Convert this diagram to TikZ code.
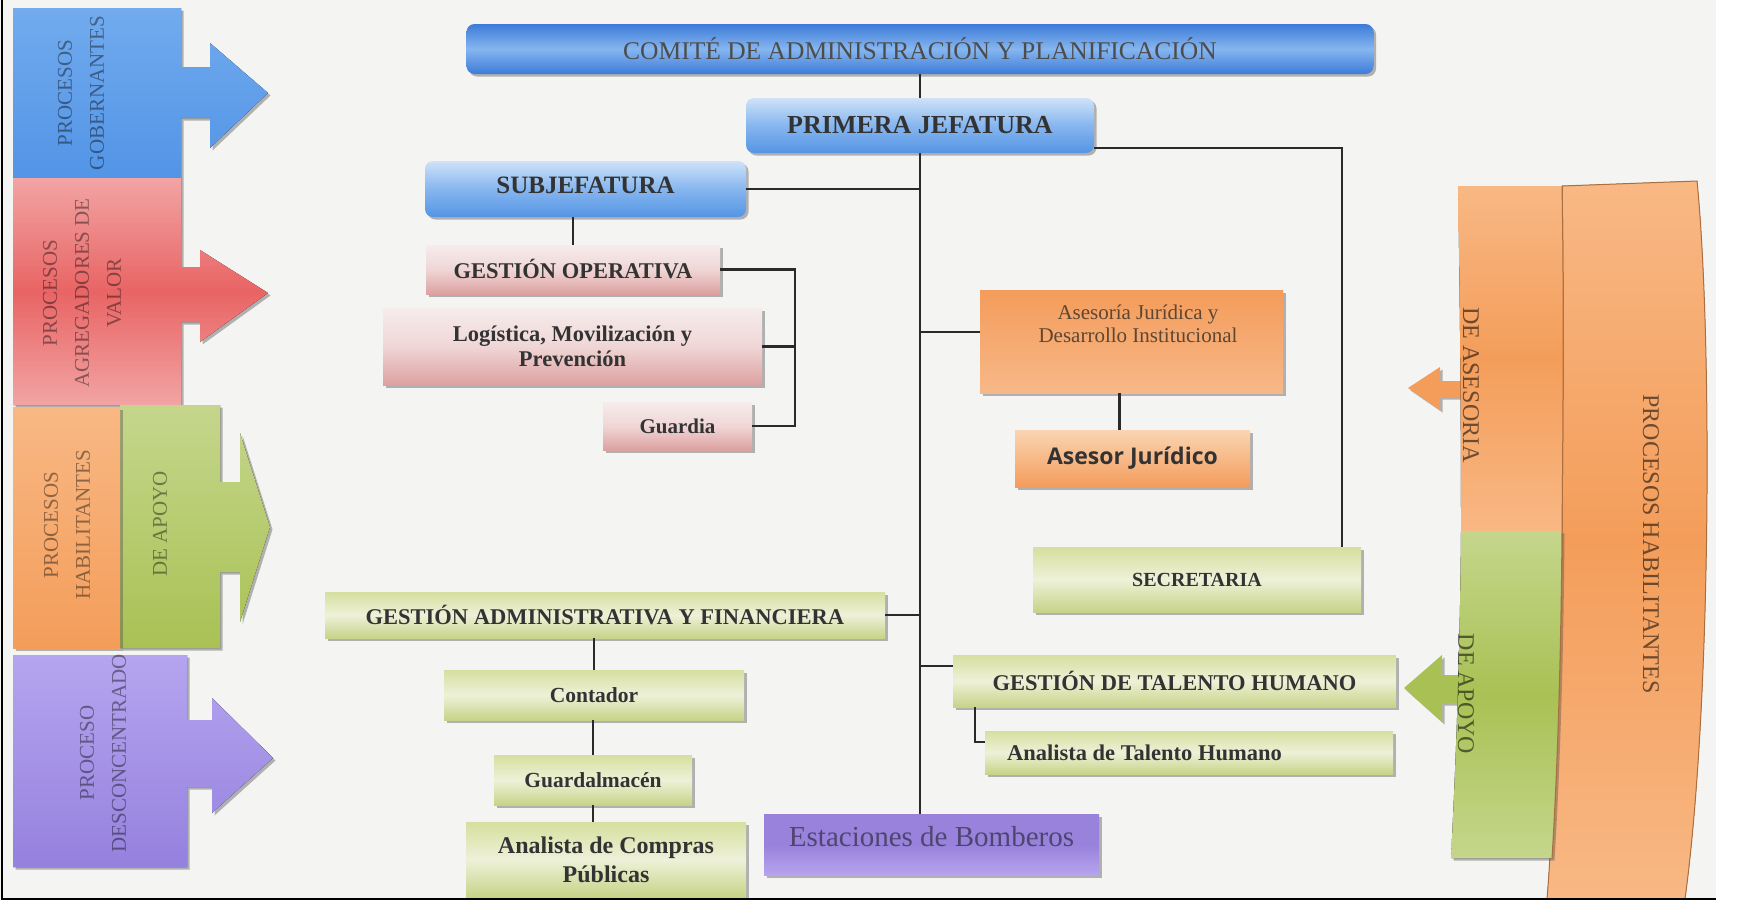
\documentclass[tikz,border=0pt]{standalone}
\usepackage{fontspec}
\setmainfont{Liberation Serif}
\newfontfamily\asesorfont{Open Sans}
\usepackage{tikz}
\usetikzlibrary{calc,shadows}

\definecolor{fondo}{HTML}{F4F4F3}
\definecolor{gris}{HTML}{2A2A2A}
\definecolor{azulA}{HTML}{3D7BD8}
\definecolor{azulB}{HTML}{86B6EF}
\definecolor{azulC}{HTML}{CFE2F8}
\definecolor{azulD}{HTML}{5595E4}
\definecolor{rosaA}{HTML}{F6ECEC}
\definecolor{rosaM}{HTML}{F0D6D6}
\definecolor{rosaB}{HTML}{DDA0A0}
\definecolor{verdeA}{HTML}{D6DF9F}
\definecolor{verdeB}{HTML}{EEF1D8}
\definecolor{verdeC}{HTML}{C7D388}
\definecolor{naranjaA}{HTML}{F49C5B}
\definecolor{naranjaB}{HTML}{F7B888}
\definecolor{naranjaC}{HTML}{FAD5B3}
\definecolor{moradoA}{HTML}{9882DC}
\definecolor{moradoB}{HTML}{B6A4EE}
\definecolor{moradoT}{HTML}{4F4670}
\definecolor{marron}{HTML}{5E4632}
\definecolor{pgA}{HTML}{72ABEE}
\definecolor{pgB}{HTML}{5294E6}
\definecolor{rojoA}{HTML}{F2A4A4}
\definecolor{rojoB}{HTML}{E96464}
\definecolor{naA}{HTML}{F8B884}
\definecolor{naB}{HTML}{F49D5A}
\definecolor{veA}{HTML}{C5D68C}
\definecolor{veB}{HTML}{A9C154}
\definecolor{moA}{HTML}{B5A5EF}
\definecolor{moB}{HTML}{9581DE}

\newcommand{\fz}[2]{\fontsize{#1}{#2}\selectfont}

\tikzset{
  sombra/.style={drop shadow={shadow xshift=2.5pt,shadow yshift=-2.5pt,opacity=.4,fill=black!70}},
  azul/.style={rounded corners=8pt,top color=azulA,bottom color=azulA,middle color=azulB,sombra,inner sep=0pt,text=black!70},
  azulclaro/.style={rounded corners=8pt,top color=azulC,bottom color=azulD,middle color=azulB,sombra,inner sep=0pt,text=black!80},
  rosa/.style={top color=rosaA,bottom color=rosaB,middle color=rosaM,sombra,inner sep=0pt,text=black!80,font=\bfseries\fz{22.5}{25}},
  verde/.style={top color=verdeA,bottom color=verdeC,middle color=verdeB,sombra,inner sep=0pt,text=black!80,font=\bfseries\fz{22.5}{25}},
  naranja/.style={top color=naranjaA,bottom color=naranjaB,sombra,inner sep=0pt},
  naranjaclaro/.style={top color=naranjaC,bottom color=naranjaA,sombra,inner sep=0pt,text=black!80},
  morado/.style={top color=moradoA,bottom color=moradoB,middle color=moradoA,sombra,inner sep=0pt,text=moradoT},
  conector/.style={line width=2.5pt,draw=gris},
  ltexto/.style={rotate=90,align=center,text=black,text opacity=.42,font=\fz{21}{32}},
  rtexto/.style={rotate=-90,align=center,text=black,text opacity=.55,font=\fz{24}{28}},
}

\begin{document}
\begin{tikzpicture}[x=1pt,y=-1pt]
\useasboundingbox (0,0) rectangle (1741,903);
\fill[fondo] (0,0) rectangle (1716,899);

\fill[top color=pgA,bottom color=pgB,sombra] (13,8) -- (181,8) -- (181,67) -- (210,67) -- (210,43) -- (268,93) -- (210,148) -- (210,118) -- (181,118) -- (181,178) -- (13,178) -- cycle;
\fill[top color=rojoA,bottom color=rojoA,middle color=rojoB,sombra] (13,178) -- (181,178) -- (181,267) -- (200,267) -- (200,250) -- (268,293) -- (200,342) -- (200,322) -- (181,322) -- (181,405) -- (13,405) -- cycle;
\fill[top color=veA,bottom color=veB,sombra] (120,405) -- (220,405) -- (220,482) -- (240,482) -- (240,433) -- (270,527) -- (240,622) -- (240,572) -- (220,572) -- (220,648) -- (120,648) -- cycle;
\fill[top color=naA,bottom color=naB,sombra] (13,407) rectangle (120,648);
\fill[top color=moA,bottom color=moB,sombra] (13,655) -- (187,655) -- (187,720) -- (212,720) -- (212,698) -- (273,758) -- (212,813) -- (212,787) -- (187,787) -- (187,867) -- (13,867) -- cycle;
\node[ltexto] (gober) at (81,93) {PROCESOS\\GOBERNANTES};
\node[ltexto] (agreg) at (82,293) {PROCESOS\\AGREGADORES DE\\VALOR};
\node[ltexto] (habil) at (67,525) {PROCESOS\\HABILITANTES};
\node[ltexto] (apoyoizq) at (160,524) {DE APOYO};
\node[ltexto] (descon) at (103,753) {PROCESO\\DESCONCENTRADO};

\fill[naB,sombra] (1466,381) -- (1440,381) -- (1440,367) -- (1408,388) -- (1440,410) -- (1440,397) -- (1466,397) -- cycle;
\fill[veB,sombra] (1462,675) -- (1442,675) -- (1442,655) -- (1404,688) -- (1442,722) -- (1442,703) -- (1462,703) -- cycle;
\fill[top color=naA,bottom color=naA,middle color=naB,draw=naB!70!black,line width=1pt] (1562,186) -- (1697,181) .. controls (1712,330) and (1712,700) .. (1685,899) -- (1547,899) .. controls (1555,800) and (1562,600) .. (1562,531) .. controls (1563,420) and (1564,300) .. (1562,186) -- cycle;
\fill[top color=naA,bottom color=naA,middle color=naB] (1458,186) -- (1562,186) .. controls (1564,300) and (1563,420) .. (1562,531) -- (1461,531) .. controls (1461,420) and (1460,300) .. (1458,186) -- cycle;
\fill[top color=veA,bottom color=veA,middle color=veB,sombra] (1461,531) -- (1562,531) .. controls (1561,650) and (1558,760) .. (1552,858) -- (1451,858) .. controls (1456,760) and (1460,650) .. (1461,531) -- cycle;
\draw[naB!70!black,line width=1pt] (1562,186) .. controls (1564,300) and (1563,420) .. (1562,531) .. controls (1561,650) and (1558,760) .. (1552,858);
\node[rtexto] (habilder) at (1651,544) {PROCESOS HABILITANTES};
\node[rtexto] (asesoria) at (1471,385) {DE ASESORIA};
\node[rtexto] (apoyoder) at (1466,694) {DE APOYO};

\node[azul,minimum width=907,minimum height=50,font=\fz{25.5}{28}] (comite) at (920,49) {COMITÉ DE ADMINISTRACIÓN Y PLANIFICACIÓN};
\node[azulclaro,minimum width=348,minimum height=55,font=\bfseries\fz{26}{28}] (primera) at (920,125.5) {PRIMERA JEFATURA};
\node[azulclaro,minimum width=321,minimum height=56,text depth=8pt,font=\bfseries\fz{25}{28}] (subjef) at (585.5,189) {SUBJEFATURA};
\node[rosa,minimum width=294,minimum height=49] (gesop) at (573,269.5) {GESTIÓN OPERATIVA};
\node[rosa,minimum width=379,minimum height=77,align=center] (logis) at (572.5,346.5) {Logística, Movilización y\\Prevención};
\node[rosa,minimum width=149,minimum height=48,font=\bfseries\fz{21}{24}] (guardia) at (677.5,426) {Guardia};
\node[naranja,minimum width=303,minimum height=103] (aseso) at (1131.5,341.5) {};
\node[align=center,text=marron,font=\fz{21}{23}] (asesotxt) at (1138,323.5) {Asesoría Jurídica y\\Desarrollo Institucional};
\node[naranjaclaro,minimum width=235,minimum height=57,font=\asesorfont\bfseries\fz{23}{26}] (asesor) at (1132.5,458.5) {Asesor Jurídico};
\node[verde,minimum width=328,minimum height=65,font=\bfseries\fz{20}{24}] (secre) at (1197,579.5) {SECRETARIA};
\node[verde,minimum width=560,minimum height=46] (gaf) at (605,615) {GESTIÓN ADMINISTRATIVA Y FINANCIERA};
\node[verde,minimum width=300,minimum height=50,font=\bfseries\fz{21.5}{24}] (conta) at (594,695) {Contador};
\node[verde,minimum width=198,minimum height=50,font=\bfseries\fz{21.5}{24}] (guardal) at (593,780) {Guardalmacén};
\node[verde,minimum width=280,minimum height=75,align=center,font=\bfseries\fz{24}{29}] (anacomp) at (606,859.5) {Analista de Compras\\Públicas};
\node[morado,minimum width=335,minimum height=61,text depth=17pt,font=\fz{29}{32}] (estac) at (931.5,844.5) {Estaciones de Bomberos};
\node[verde,minimum width=443,minimum height=52] (gth) at (1174.5,681) {GESTIÓN DE TALENTO HUMANO};
\node[verde,minimum height=43,text width=364pt,inner xsep=22pt,align=flush left] (anath) at (1189,752.5) {Analista de Talento Humano};

\draw[conector] (comite) -- (primera);
\draw[conector] (primera.south) -- (primera.south |- estac.north);
\draw[conector] (subjef.east) -- (subjef.east -| primera.south);
\draw[conector] (gesop.north) -- (gesop.north |- subjef.south);
\draw[conector] (gesop.east) -- ++(75,0) coordinate (corchete) -- (corchete |- guardia.east) -- (guardia.east);
\draw[conector] (logis.east) -- (logis.east -| corchete);
\draw[conector] ([yshift=9.5pt]aseso.west) -- ([yshift=9.5pt]aseso.west -| primera.south);
\draw[conector] ([xshift=-12pt]aseso.south) -- ([xshift=-12pt]aseso.south |- asesor.north);
\draw[conector] ([yshift=-22.5pt]primera.east) -| ([xshift=145pt]secre.north);
\draw[conector] (gaf.east) -- (gaf.east -| primera.south);
\draw[conector] (conta.north) -- (conta.north |- gaf.south);
\draw[conector] (guardal.north) -- (guardal.north |- conta.south);
\draw[conector] (guardal.south) -- (guardal.south |- anacomp.north);
\draw[conector] ([yshift=15pt]gth.west) -- ([yshift=15pt]gth.west -| primera.south);
\draw[conector] ([xshift=22pt]gth.south west) |- ([yshift=10.5pt]anath.west);

\draw[black,line width=2pt] (2,0) -- (2,899) -- (1716,899);
\end{tikzpicture}
\end{document}
